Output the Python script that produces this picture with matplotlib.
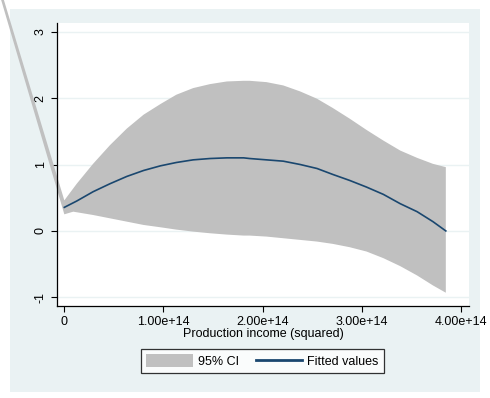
import matplotlib
matplotlib.use("Agg")
import matplotlib.pyplot as plt
from matplotlib.patches import Rectangle, Patch
from matplotlib.lines import Line2D

plt.rcParams['font.family'] = ['Liberation Sans', 'DejaVu Sans']

# values (x in units of 1e14)
fit_x = [0, 0.125, 0.29, 0.46, 0.63, 0.80, 0.97, 1.13, 1.30, 1.47, 1.64, 1.81, 1.87,
         2.04, 2.21, 2.38, 2.55, 2.71, 2.88, 3.05, 3.22, 3.39, 3.56, 3.72, 3.85]
fit_y = [0.355, 0.45, 0.59, 0.71, 0.82, 0.91, 0.98, 1.03, 1.07, 1.09, 1.10, 1.10, 1.09,
         1.07, 1.05, 1.00, 0.94, 0.85, 0.76, 0.66, 0.55, 0.41, 0.29, 0.14, 0.0]

ci_hi_x = fit_x
ci_hi = [0.46, 0.71, 1.01, 1.29, 1.54, 1.75, 1.91, 2.05, 2.15, 2.21, 2.25, 2.26, 2.26,
         2.24, 2.19, 2.10, 1.99, 1.85, 1.69, 1.52, 1.36, 1.21, 1.10, 1.01, 0.96]

ci_lo_x = [0, 0.09, 0.29, 0.46, 0.63, 0.80, 0.97, 1.13, 1.30, 1.47, 1.64, 1.81, 1.87,
           2.04, 2.21, 2.38, 2.55, 2.71, 2.88, 3.05, 3.22, 3.39, 3.56, 3.72, 3.85]
ci_lo = [0.25, 0.29, 0.24, 0.19, 0.14, 0.09, 0.055, 0.02, -0.01, -0.035, -0.055, -0.07, -0.07,
         -0.085, -0.11, -0.135, -0.16, -0.195, -0.245, -0.31, -0.41, -0.53, -0.67, -0.82, -0.93]

# stray vertex of the CI area, lies outside the plot region
stray_x, stray_y = -1.83, 9.51

yticks = [-1, 0, 1, 2, 3]
xticks = [0, 1, 2, 3, 4]
xtick_labels = ['0', '1.00e+14', '2.00e+14', '3.00e+14', '4.00e+14']

bg = '#EAF2F3'
gray = '#C0C0C0'
navy = '#1A476F'
fs = 9

fig = plt.figure(figsize=(4.9, 3.98), dpi=100)
fig.patches.append(Rectangle((10 / 490, 6 / 398), 470 / 490, 383 / 398,
                             transform=fig.transFigure, facecolor=bg,
                             edgecolor='none', zorder=-1))

ax = fig.add_axes([57 / 490, 92 / 398, 412 / 490, 283 / 398])
ax.set_facecolor('white')

# CI polygon: upper edge forward, lower edge back, then the stray point
px = list(ci_hi_x) + list(ci_lo_x[::-1]) + [stray_x]
py = list(ci_hi) + list(ci_lo[::-1]) + [stray_y]
ax.fill(px, py, color=gray, lw=0, clip_on=False, zorder=2)
ax.plot(fit_x, fit_y, color=navy, lw=1.2, zorder=3)

ax.set_xlim(-0.074, 4.084)
ax.set_ylim(-1.13, 3.13)
ax.set_yticks(yticks)
ax.set_yticklabels([str(v) for v in yticks], rotation=90, va='center')
ax.set_xticks(xticks)
ax.set_xticklabels(xtick_labels)
ax.tick_params(length=4, width=0.8, labelsize=fs, pad=3.5, color='black')
ax.grid(axis='y', color=bg, lw=1.0, zorder=1)
ax.grid(axis='x', visible=False)
ax.set_axisbelow(True)

for s in ['top', 'right']:
    ax.spines[s].set_visible(False)
for s in ['left', 'bottom']:
    ax.spines[s].set_linewidth(0.9)
    ax.spines[s].set_color('black')

ax.set_xlabel('Production income (squared)', fontsize=fs, labelpad=0)

handles = [Patch(facecolor=gray, edgecolor='none'),
           Line2D([], [], color=navy, lw=2)]
leg = fig.legend(handles, ['95% CI', 'Fitted values'], loc='center',
                 bbox_to_anchor=(262.5 / 490, 1 - 361.2 / 398), ncol=2,
                 fontsize=fs, frameon=True, fancybox=False, edgecolor='black',
                 handlelength=3.7, handleheight=1.15, handletextpad=0.4,
                 columnspacing=1.4, borderpad=0.4, borderaxespad=0)
leg.get_frame().set_linewidth(0.9)

fig.savefig('out.png', dpi=100, facecolor='white')
